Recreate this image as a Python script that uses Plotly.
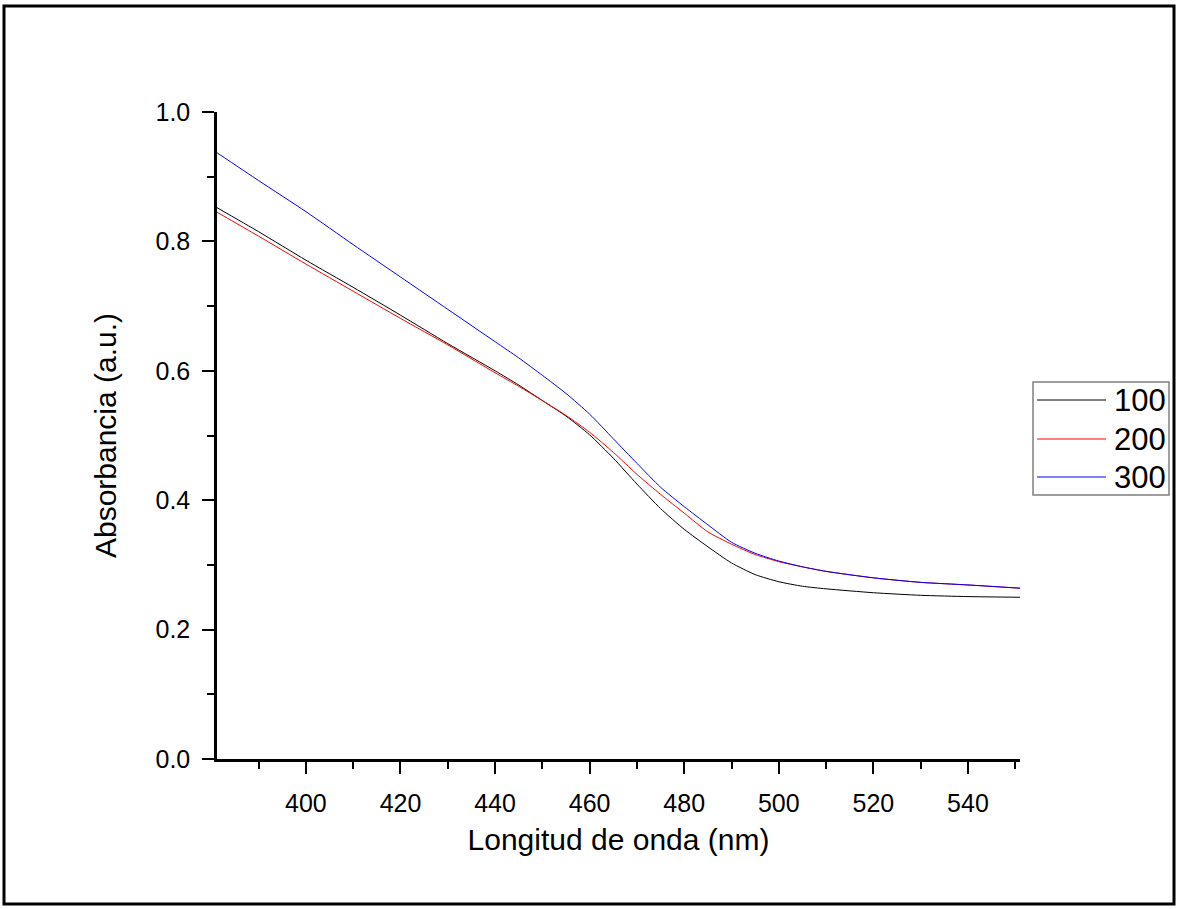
import plotly.graph_objects as go

wavelength = [381, 390, 400, 410, 420, 430, 440, 445, 450, 455, 460, 465, 470, 475,
              480, 485, 490, 495, 500, 505, 510, 520, 530, 540, 551]
abs_100 = [0.853, 0.815, 0.771, 0.729, 0.686, 0.642, 0.600, 0.578, 0.554, 0.530, 0.501,
           0.465, 0.425, 0.387, 0.355, 0.328, 0.303, 0.285, 0.274, 0.267, 0.263, 0.257,
           0.253, 0.251, 0.250]
abs_200 = [0.846, 0.808, 0.765, 0.723, 0.681, 0.640, 0.597, 0.576, 0.554, 0.531, 0.505,
           0.474, 0.440, 0.409, 0.380, 0.351, 0.332, 0.316, 0.305, 0.297, 0.290, 0.280,
           0.273, 0.269, 0.264]
abs_300 = [0.938, 0.894, 0.846, 0.795, 0.745, 0.695, 0.645, 0.620, 0.593, 0.565, 0.533,
           0.495, 0.457, 0.420, 0.390, 0.362, 0.335, 0.318, 0.306, 0.297, 0.290, 0.280,
           0.273, 0.269, 0.264]
series_names = ["100", "200", "300"]
series_colors = ["#000000", "#ff0000", "#0000ff"]
x_ticks = [400, 420, 440, 460, 480, 500, 520, 540]
y_ticks = [0.0, 0.2, 0.4, 0.6, 0.8, 1.0]

W, H = 1178, 909
L, R, T, B = 217, 1020, 112, 759

def px(x):
    return (x - L) / (R - L)

def py(y):
    return (B - y) / (B - T)

FONT = "Arial, Liberation Sans, sans-serif"

fig = go.Figure()
for name, ys, col in zip(series_names, [abs_100, abs_200, abs_300], series_colors):
    fig.add_trace(go.Scatter(x=wavelength, y=ys, mode="lines", name=name,
                             line=dict(color=col, width=1, shape="spline", smoothing=0.6),
                             showlegend=False))

axis_common = dict(
    showgrid=False, zeroline=False, showline=True, linecolor="black", linewidth=2.5,
    ticks="outside", ticklen=12, tickwidth=2, tickcolor="black",
    tickfont=dict(family=FONT, size=25, color="black"),
)
fig.update_xaxes(range=[381.2, 551], tickvals=x_ticks, ticklabelstandoff=8,
                 minor=dict(dtick=10, ticks="outside", ticklen=7, tickwidth=2, tickcolor="black"),
                 title=dict(text="Longitud de onda (nm)", font=dict(family=FONT, size=30, color="black"), standoff=14),
                 **axis_common)
fig.update_yaxes(range=[0, 1.0], tickvals=y_ticks, tickformat=".1f", ticklabelstandoff=7,
                 minor=dict(dtick=0.1, ticks="outside", ticklen=7, tickwidth=2, tickcolor="black"),
                 title=dict(text="Absorbancia (a.u.)", font=dict(family=FONT, size=30, color="black"), standoff=30),
                 **axis_common)

shapes = []
# outer frame
shapes.append(dict(type="rect", xref="paper", yref="paper",
                   x0=px(4), x1=px(1174), y0=py(904), y1=py(6),
                   line=dict(color="black", width=3)))
# legend box
shapes.append(dict(type="rect", xref="paper", yref="paper",
                   x0=px(1033), x1=px(1169), y0=py(495), y1=py(382),
                   line=dict(color="#7f7f7f", width=1.5), fillcolor="white"))
annotations = []
leg_y = [400, 439, 477]
for name, col, yy in zip(series_names, series_colors, leg_y):
    shapes.append(dict(type="line", xref="paper", yref="paper",
                       x0=px(1037), x1=px(1106), y0=py(yy), y1=py(yy),
                       line=dict(color=col, width=1)))
    annotations.append(dict(xref="paper", yref="paper", x=px(1112), y=py(yy),
                            text=name, showarrow=False, xanchor="left", yanchor="middle",
                            font=dict(family=FONT, size=31, color="black")))

fig.update_layout(
    width=W, height=H,
    margin=dict(l=L, r=W - R, t=T, b=H - B, pad=0),
    paper_bgcolor="white", plot_bgcolor="white",
    shapes=shapes, annotations=annotations, showlegend=False,
)
fig.write_html("out.html", config={"displayModeBar": False},
               post_script="document.body.style.margin='0';document.body.style.overflow='hidden';")
